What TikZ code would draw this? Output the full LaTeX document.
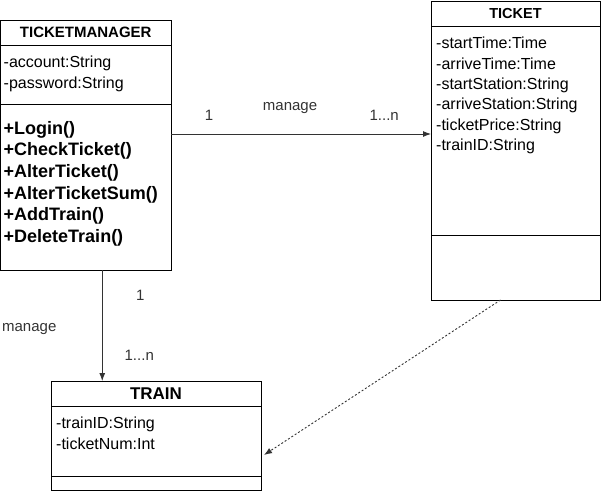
\documentclass[tikz,border=0pt]{standalone}
\usepackage{fontspec}
\setmainfont{Liberation Sans}
\usetikzlibrary{arrows.meta, positioning}

\begin{document}
\begin{tikzpicture}[x=1pt, y=1pt, >={Latex[length=8pt,width=6pt]},
    comp/.style={draw, line width=0.9pt, inner sep=0pt, outer sep=0pt},
    head/.style={comp, font=\bfseries\fontsize{#1}{#1}\selectfont},
    attr/.style={inner sep=0pt, anchor=north west, align=left, font=\fontsize{16}{20.4}\selectfont},
    op/.style={inner sep=0pt, anchor=north west, align=left, font=\bfseries\fontsize{18}{21.6}\selectfont},
    lbl/.style={inner sep=0pt, anchor=base, font=\fontsize{15}{18}\selectfont},
    link/.style={->, line width=0.9pt, black!80}]

    \useasboundingbox (0,0) rectangle (601,-491);

    % TicketManager
    \node [head=15, minimum width=170.5pt, minimum height=25pt, anchor=north west] (tmtitle) at (0.5,-20) {TICKETMANAGER};
    \node [comp, minimum width=170.5pt, minimum height=59pt, below=0pt of tmtitle] (tmattr) {};
    \node [comp, minimum width=170.5pt, minimum height=166pt, below=0pt of tmattr] (tmops) {};
    \node [attr, below right=11pt and 3pt of tmattr.north west] (tmattrtext) {-account:String\\-password:String};
    \node [op, below right=17pt and 3pt of tmops.north west] (tmoptext) {+Login()\\+CheckTicket()\\+AlterTicket()\\+AlterTicketSum()\\+AddTrain()\\+DeleteTrain()};

    % Ticket
    \node [head=14.5, minimum width=169pt, minimum height=25pt, anchor=north west] (tktitle) at (431,-1) {TICKET};
    \node [comp, minimum width=169pt, minimum height=209pt, below=0pt of tktitle] (tkattr) {};
    \node [comp, minimum width=169pt, minimum height=65pt, below=0pt of tkattr] (tkops) {};
    \node [attr, below right=11pt and 5pt of tkattr.north west] (tkattrtext) {-startTime:Time\\-arriveTime:Time\\-startStation:String\\-arriveStation:String\\-ticketPrice:String\\-trainID:String};

    % Train
    \node [head=17, minimum width=210pt, minimum height=25pt, anchor=north west] (trtitle) at (51,-381) {TRAIN};
    \node [comp, minimum width=210pt, minimum height=70pt, below=0pt of trtitle] (trattr) {};
    \node [comp, minimum width=210pt, minimum height=14pt, below=0pt of trattr] (trops) {};
    \node [attr, below right=11pt and 5pt of trattr.north west] (trattrtext) {-trainID:String\\-ticketNum:Int};

    % Associations
    \coordinate (m1) at ([yshift=-30pt]tmops.north east);
    \draw [link] (m1) -- (m1 -| tkattr.west)
        node [lbl, pos=0.146, yshift=13.6pt] {1}
        node [lbl, pos=0.458, yshift=23.6pt] {manage}
        node [lbl, pos=0.82, yshift=13.6pt] {1...n};

    \coordinate (m2) at ([xshift=16.5pt]tmops.south);
    \draw [link] (m2) -- (m2 |- trtitle.north)
        node [lbl, pos=0.277, xshift=38pt] {1}
        node [lbl, pos=0.556, xshift=-73pt] {manage}
        node [lbl, pos=0.817, xshift=37pt] {1...n};

    % Dependency
    \draw [link, dash pattern=on 2pt off 2pt] ([xshift=-15pt]tkops.south) -- ([xshift=3pt, yshift=-14pt]trattr.east);

\end{tikzpicture}
\end{document}
